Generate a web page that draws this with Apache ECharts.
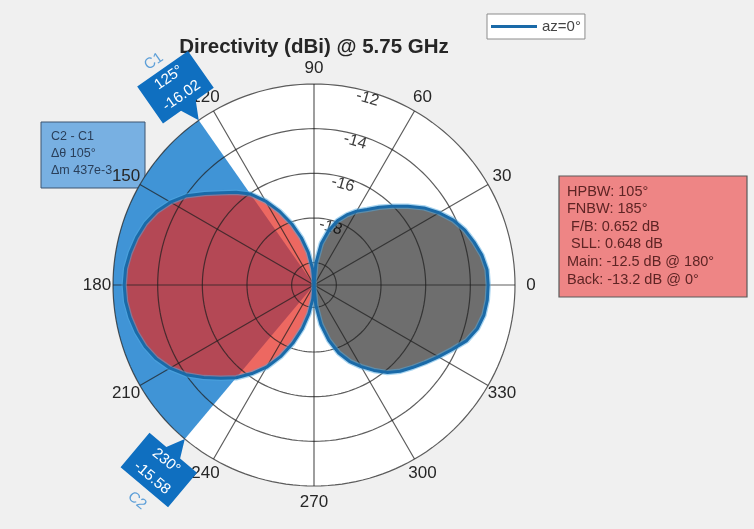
<!DOCTYPE html>
<html>
<head>
<meta charset="utf-8">
<script src="https://cdn.jsdelivr.net/npm/echarts@6/dist/echarts.min.js"></script>
<style>
  html, body { margin: 0; padding: 0; background: #f0f0f0; }
  #chart { width: 754px; height: 529px; }
</style>
</head>
<body>
<div id="chart"></div>
<script>
// Directivity in the az = 0° cut, dBi, sampled every 5°
const patternAngles = [
  0, 5, 10, 15, 20, 25, 30, 35, 40, 45, 50, 55, 60, 65, 70, 75, 80, 85,
  90, 95, 100, 105, 110, 115, 120, 125, 130, 135, 140, 145, 150, 155, 160, 165, 170, 175,
  180, 185, 190, 195, 200, 205, 210, 215, 220, 225, 230, 235, 240, 245, 250, 255, 260, 265,
  270, 275, 280, 285, 290, 295, 300, 305, 310, 315, 320, 325, 330, 335, 340, 345, 350, 355
];
const patternValues = [
  -13.20, -13.22, -13.36, -13.58, -13.81, -14.12, -14.53, -14.98, -15.52, -16.01, -16.46, -16.87, -17.18, -17.54, -17.94, -18.48, -19.11, -20.01,
  -21.00, -20.28, -19.52, -18.81, -18.09, -17.37, -16.66, -16.02, -15.58, -15.16, -14.62, -14.03, -13.58, -13.22, -12.96, -12.78, -12.64, -12.53,
  -12.50, -12.53, -12.63, -12.77, -12.95, -13.20, -13.55, -14.00, -14.55, -15.10, -15.58, -16.16, -16.75, -17.46, -18.22, -18.98, -19.70, -20.37,
  -21.00, -20.10, -19.20, -18.44, -17.76, -17.22, -16.78, -16.33, -15.88, -15.54, -15.25, -14.93, -14.57, -14.17, -13.72, -13.43, -13.27, -13.21
];

const angleTicks = [0, 30, 60, 90, 120, 150, 180, 210, 240, 270, 300, 330];
const ringValues = [-20, -18, -16, -14, -12];
const ringLabelValues = [-12, -14, -16, -18];

// angle cursors
const cursorNames = ['C1', 'C2'];
const cursorAngles = [125, 230];
const cursorValues = [-16.02, -15.58];

const deltaLines = ['C2 - C1', 'Δθ 105°', 'Δm 437e-3'];
const statsLines = ['HPBW: 105°', 'FNBW: 185°', ' F/B: 0.652 dB', ' SLL: 0.648 dB', 'Main: -12.5 dB @ 180°', 'Back: -13.2 dB @ 0°'];

const R_MIN = -21, R_MAX = -12;
const FONT = "'Liberation Sans', Arial, Helvetica, sans-serif";
const GRID = 'rgba(30,30,30,0.72)';

const pairs = patternAngles.map((a, i) => [patternValues[i], a]);
const linePoints = pairs.concat([[patternValues[0], 360]]);
const mainLobe = pairs.filter(p => p[1] >= 90 && p[1] <= 270);
const backLobe = pairs.filter(p => p[1] >= 270).concat(pairs.filter(p => p[1] <= 90));

function fillSeries(points, fill, z) {
  return {
    type: 'custom', coordinateSystem: 'polar', silent: true, z: z, data: points,
    renderItem(params, api) {
      if (params.dataIndex !== 0) return null;
      const c = api.coord([R_MIN, 0]);
      const poly = [c].concat(points.map(p => api.coord(p)));
      return { type: 'polygon', shape: { points: poly }, style: { fill: fill } };
    }
  };
}

const chart = echarts.init(document.getElementById('chart'), null, { renderer: 'canvas' });

const option = {
  backgroundColor: '#f0f0f0',
  animation: false,
  polar: { center: [314, 285], radius: 201 },
  angleAxis: {
    type: 'value', min: 0, max: 360, interval: 30, startAngle: 0, clockwise: false, z: 5,
    axisLine: { show: false }, axisTick: { show: false }, axisLabel: { show: false },
    splitLine: { show: true, lineStyle: { color: GRID, width: 1.2 } }
  },
  radiusAxis: { type: 'value', min: R_MIN, max: R_MAX, show: false },
  legend: {
    data: ['az=0°'], left: 487, top: 14, orient: 'horizontal', icon: 'rect',
    padding: [5, 4, 5, 4], itemWidth: 46, itemHeight: 3, itemGap: 4,
    backgroundColor: '#ffffff', borderColor: '#8c8c8c', borderWidth: 1, borderRadius: 0,
    textStyle: { fontFamily: FONT, fontSize: 15, color: '#444' }
  },
  graphic: { elements: [
    { type: 'text', x: 314, y: 47, z: 10,
      style: { text: 'Directivity (dBi) @ 5.75 GHz', fill: '#262626', font: 'bold 20.5px ' + FONT, align: 'center', verticalAlign: 'middle' } },
    { type: 'group', x: 41, y: 122, z: 2, children: [
      { type: 'rect', shape: { x: 0, y: 0, width: 104, height: 66 }, style: { fill: '#78b0e2', stroke: '#3d5470', lineWidth: 1 } }
    ].concat(deltaLines.map((t, i) => ({
      type: 'text', x: 10, y: 15 + i * 17,
      style: { text: t, fill: '#2a3f5a', font: '12.5px ' + FONT, verticalAlign: 'middle' }
    }))) },
    { type: 'group', x: 559, y: 176, z: 10, children: [
      { type: 'rect', shape: { x: 0, y: 0, width: 188, height: 121 }, style: { fill: '#ee8585', stroke: '#5a5a5a', lineWidth: 1.2 } }
    ].concat(statsLines.map((t, i) => ({
      type: 'text', x: 8, y: 15.5 + i * 17.6,
      style: { text: t, fill: '#5e2424', font: '14.5px ' + FONT, verticalAlign: 'middle', whiteSpace: 'pre' }
    }))) }
  ] },
  series: [
    // plot disk
    {
      type: 'custom', coordinateSystem: 'polar', silent: true, z: 1, data: [[R_MAX, 0]],
      renderItem(params, api) {
        const pts = [];
        for (let a = 0; a < 360; a += 1) pts.push(api.coord([R_MAX, a]));
        return { type: 'polygon', shape: { points: pts }, style: { fill: '#ffffff' } };
      }
    },
    // span between the two cursors
    {
      type: 'custom', coordinateSystem: 'polar', silent: true, z: 3,
      data: cursorAngles.map(a => [R_MAX, a]),
      renderItem(params, api) {
        if (params.dataIndex !== 0) return null;
        const pts = [api.coord([R_MIN, 0])];
        for (let a = cursorAngles[0]; a <= cursorAngles[1]; a += 1) pts.push(api.coord([R_MAX, a]));
        return { type: 'polygon', shape: { points: pts }, style: { fill: 'rgba(0,112,200,0.75)' } };
      }
    },
    // magnitude tick labels (under the lobe fills)
    {
      type: 'custom', coordinateSystem: 'polar', silent: true, z: 3.5,
      data: ringLabelValues.map(v => [v, 74]),
      renderItem(params, api) {
        const c = api.coord([R_MIN, 0]);
        const p = api.coord([api.value(0), 74]);
        const dx = p[0] - c[0], dy = p[1] - c[1];
        const len = Math.sqrt(dx * dx + dy * dy);
        const k = (len - 7) / len;
        return { type: 'text', x: c[0] + dx * k, y: c[1] + dy * k, rotation: -16 * Math.PI / 180,
          style: { text: String(api.value(0)), fill: '#3c3c3c', font: '16px ' + FONT, align: 'center', verticalAlign: 'middle' } };
      }
    },
    fillSeries(backLobe, 'rgba(0,0,0,0.57)', 4),
    fillSeries(mainLobe, 'rgba(230,40,30,0.70)', 4),
    // magnitude rings
    {
      type: 'custom', coordinateSystem: 'polar', silent: true, z: 5,
      data: ringValues.map(v => [v, 0]),
      renderItem(params, api) {
        const v = api.value(0);
        const pts = [];
        for (let a = 0; a <= 360; a += 2) pts.push(api.coord([v, a]));
        return { type: 'polyline', shape: { points: pts }, style: { stroke: GRID, lineWidth: 1.2, fill: null } };
      }
    },
    // soft edge under the pattern trace
    {
      type: 'line', coordinateSystem: 'polar', z: 5.5, silent: true,
      data: linePoints, symbol: 'none', showSymbol: false,
      lineStyle: { color: 'rgba(80,170,225,0.5)', width: 5.5 }
    },
    // pattern
    {
      name: 'az=0°', type: 'line', coordinateSystem: 'polar', z: 6,
      data: linePoints, symbol: 'none', showSymbol: false, smooth: false,
      lineStyle: { color: '#1a6aa8', width: 3 }, itemStyle: { color: '#1a6aa8' }
    },
    // angle tick labels
    {
      type: 'custom', coordinateSystem: 'polar', silent: true, z: 7,
      data: angleTicks.map(a => [R_MAX, a]),
      renderItem(params, api) {
        const c = api.coord([R_MIN, 0]);
        const p = api.coord([R_MAX, api.value(1)]);
        const k = 217 / 201;
        return { type: 'text', x: c[0] + (p[0] - c[0]) * k, y: c[1] + (p[1] - c[1]) * k,
          style: { text: String(api.value(1)), fill: '#262626', font: '17px ' + FONT, align: 'center', verticalAlign: 'middle' } };
      }
    },
    // cursor markers at the rim
    {
      type: 'custom', coordinateSystem: 'polar', silent: true, z: 10,
      data: cursorAngles.map((a, i) => [cursorValues[i], a]),
      renderItem(params, api) {
        const i = params.dataIndex;
        const ang = api.value(1);
        const tip = api.coord([R_MAX, ang]);
        const upper = ang < 180;
        const s = upper ? -1 : 1;
        const rot = (upper ? ang - 90 : ang - 270) * Math.PI / 180;
        const box = [[-31, s * 63], [31, s * 63], [31, s * 18], [9, s * 18], [0, 0], [-9, s * 18], [-31, s * 18]];
        const lineA = upper ? -52 : 29;
        const lineB = upper ? -30 : 51;
        return {
          type: 'group', x: tip[0], y: tip[1], rotation: rot,
          children: [
            { type: 'polygon', shape: { points: box }, style: { fill: '#0f6fc0' } },
            { type: 'text', x: 0, y: lineA, style: { text: ang + '°', fill: '#ffffff', font: '15px ' + FONT, align: 'center', verticalAlign: 'middle' } },
            { type: 'text', x: 0, y: lineB, style: { text: api.value(0).toFixed(2), fill: '#ffffff', font: '15px ' + FONT, align: 'center', verticalAlign: 'middle' } },
            { type: 'text', x: upper ? -3 : 3, y: upper ? -74 : 78, style: { text: cursorNames[i], fill: '#5d9fd8', font: '15px ' + FONT, align: 'center', verticalAlign: 'middle' } }
          ]
        };
      }
    }
  ]
};

chart.setOption(option);
</script>
</body>
</html>
